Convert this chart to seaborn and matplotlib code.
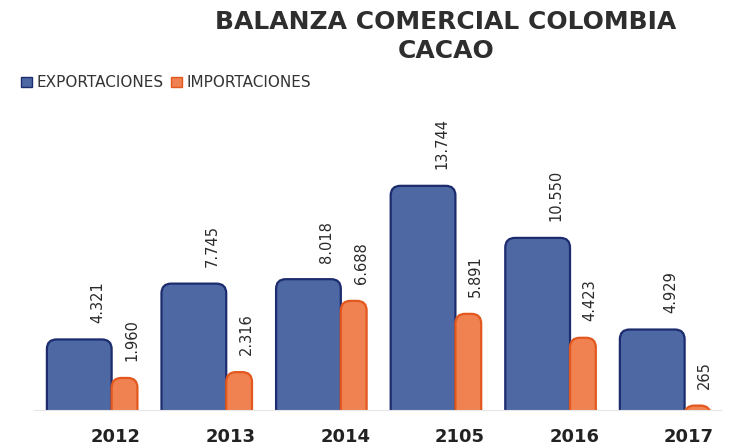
import pandas as pd
import seaborn as sns
import matplotlib.pyplot as plt
from matplotlib.patches import FancyBboxPatch, Patch
from matplotlib.transforms import ScaledTranslation

anios = ['2012', '2013', '2014', '2105', '2016', '2017']
exportaciones = [4321, 7745, 8018, 13744, 10550, 4929]
importaciones = [1960, 2316, 6688, 5891, 4423, 265]
series = ['EXPORTACIONES', 'IMPORTACIONES']

col_exp = '#4d68a2'
borde_exp = '#1c2c6e'
col_imp = '#f08150'
borde_imp = '#e2581e'

df = pd.DataFrame({
    'anio': anios * 2,
    'valor': exportaciones + importaciones,
    'serie': [series[0]] * len(anios) + [series[1]] * len(anios),
})

sns.set_style('white')
plt.rcParams['font.family'] = ['DejaVu Sans']

fig = plt.figure(figsize=(7.49, 4.47), dpi=100)
ax = fig.add_axes([0.045, 0.083, 0.918, 0.693])

sns.barplot(data=df, x='anio', y='valor', hue='serie',
            palette=[col_exp, col_imp], width=0.8, legend=False, ax=ax)

ax.set_xlim(-0.5, 5.5)
ax.set_ylim(0, 19000)

# px per unit, for rounded tops
x_px = 0.918 * 749 / 6
y_px = 0.693 * 447 / 19000
aspect = x_px / y_px
r = 0.085

centros = ax.get_xticks()
geo = [(-0.385, 0.565, col_exp, borde_exp, 10), (0.18, 0.225, col_imp, borde_imp, 4)]
for k, cont in enumerate(ax.containers):
    dx, w, fc, ec, off = geo[k]
    for i, bar in enumerate(cont):
        h = bar.get_height()
        bar.set_visible(False)
        x0 = centros[i] + dx
        p = FancyBboxPatch((x0, -r * aspect), w, h + r * aspect,
                           boxstyle=f'round,pad=0,rounding_size={r}',
                           mutation_aspect=aspect,
                           fc=fc, ec=ec, lw=1.6)
        ax.add_patch(p)
        txt = f'{int(h):,}'.replace(',', '.')
        ax.annotate(txt, (x0 + w, h), xytext=(-off, 12),
                    textcoords='offset points', rotation=90,
                    ha='center', va='bottom', fontsize=10.5, color='#2a2a2a')

ax.set_xlabel('')
ax.set_ylabel('')
ax.set_yticks([])
sns.despine(ax=ax, left=True)
ax.spines['bottom'].set_color('#e6e6e6')
ax.tick_params(axis='x', length=0, pad=13, labelsize=13, labelcolor='#222222')
for lab in ax.get_xticklabels():
    lab.set_fontweight('bold')
    lab.set_transform(lab.get_transform() + ScaledTranslation(0.25, 0, fig.dpi_scale_trans))

fig.text(0.595, 0.978, 'BALANZA COMERCIAL COLOMBIA\nCACAO', ha='center', va='top',
         fontsize=18, fontweight='bold', color='#2e2e2e', linespacing=1.25)

handles = [Patch(fc=col_exp, ec=borde_exp), Patch(fc=col_imp, ec=borde_imp)]
fig.legend(handles, series, loc='center left', bbox_to_anchor=(0.01, 0.815),
           ncol=2, frameon=False, fontsize=11, handlelength=0.7, handleheight=0.7,
           handletextpad=0.3, columnspacing=0.5, labelcolor='#333333')

fig.savefig('out.png', dpi=100)
